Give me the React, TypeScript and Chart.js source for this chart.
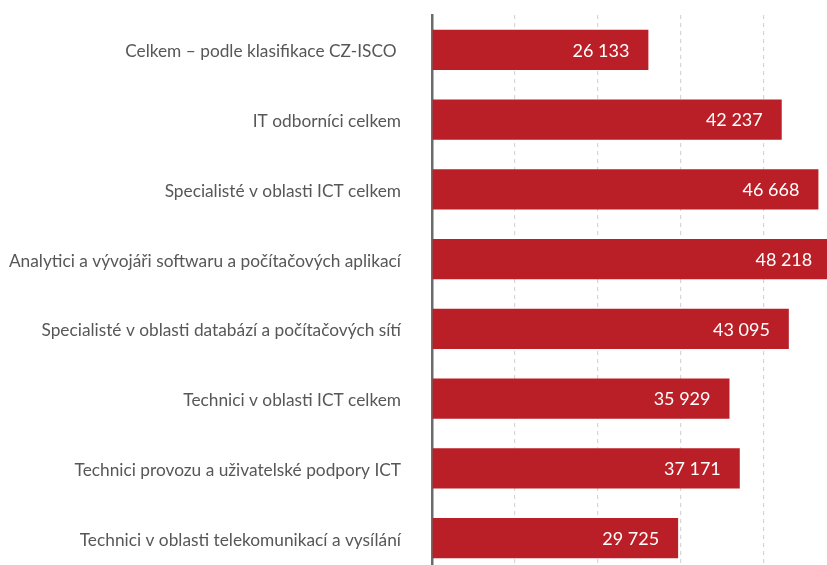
import React, { useEffect, useRef } from "react";
import { Chart, registerables } from "chart.js";

Chart.register(...registerables);

const categories = [
  "Celkem – podle klasifikace CZ-ISCO ",
  "IT odborníci celkem",
  "Specialisté v oblasti ICT celkem",
  "Analytici a vývojáři softwaru a počítačových aplikací",
  "Specialisté v oblasti databází a počítačových sítí",
  "Technici v oblasti ICT celkem",
  "Technici provozu a uživatelské podpory ICT",
  "Technici v oblasti telekomunikací a vysílání",
];
const values = [26133, 42237, 46668, 48218, 43095, 35929, 37171, 29725];
const xTicksStep = 10000;
const xMax = 50000;

const FONT = "Lato, 'Noto Sans', sans-serif";
const BAR_COLOR = "#BA1F27";

const fmt = (v: number) => {
  const s = Math.round(v).toString();
  return s.replace(/\B(?=(\d{3})+(?!\d))/g, " ");
};

const valueLabels = {
  id: "valueLabels",
  afterDatasetsDraw(chart: any) {
    const ctx = chart.ctx;
    const meta = chart.getDatasetMeta(0);
    ctx.save();
    ctx.fillStyle = "#ffffff";
    ctx.font = `18px ${FONT}`;
    ctx.textAlign = "right";
    ctx.textBaseline = "middle";
    meta.data.forEach((bar: any, i: number) => {
      ctx.fillText(fmt(values[i]), bar.x - 19, bar.y + 1);
    });
    ctx.restore();
  },
};

export default function App() {
  const ref = useRef<HTMLCanvasElement>(null);
  useEffect(() => {
    if (!ref.current) return;
    const chart = new Chart(ref.current, {
      type: "bar",
      data: {
        labels: categories,
        datasets: [
          {
            data: values,
            backgroundColor: BAR_COLOR,
            barPercentage: 0.8,
            categoryPercentage: 0.72,
          },
        ],
      },
      options: {
        indexAxis: "y",
        responsive: false,
        animation: false,
        layout: { padding: { top: 15, right: 0, bottom: 0, left: 0 } },
        plugins: {
          legend: { display: false },
          tooltip: { enabled: false },
        },
        scales: {
          x: {
            min: 0,
            max: xMax,
            ticks: { display: false, stepSize: xTicksStep },
            border: { display: false, dash: [4, 4] },
            grid: {
              drawTicks: false,
              color: (c: any) => (c.tick && c.tick.value === 0 ? "rgba(0,0,0,0)" : "#d6d6d6"),
              lineWidth: 1.2,
            },
            afterFit: (scale: any) => {
              scale.height = 0;
              scale.paddingLeft = 0;
              scale.paddingRight = 0;
            },
          },
          y: {
            afterFit: (scale: any) => {
              scale.width = 432;
              scale.paddingTop = 0;
              scale.paddingBottom = 0;
            },
            border: { display: true, color: "#6b6b6b", width: 2.5 },
            grid: { display: false, drawTicks: false },
            ticks: {
              color: "#575757",
              padding: 31,
              labelOffset: 2,
              font: { family: FONT, size: 17.3 },
            },
          },
        },
      },
      plugins: [valueLabels],
    } as any);
    return () => chart.destroy();
  }, []);
  return (
    <div
      style={{
        position: "fixed",
        left: 0,
        top: 0,
        width: 827,
        height: 565,
        overflow: "hidden",
        background: "#fff",
      }}
    >
      <canvas ref={ref} width={846} height={573} style={{ display: "block" }} />
    </div>
  );
}
